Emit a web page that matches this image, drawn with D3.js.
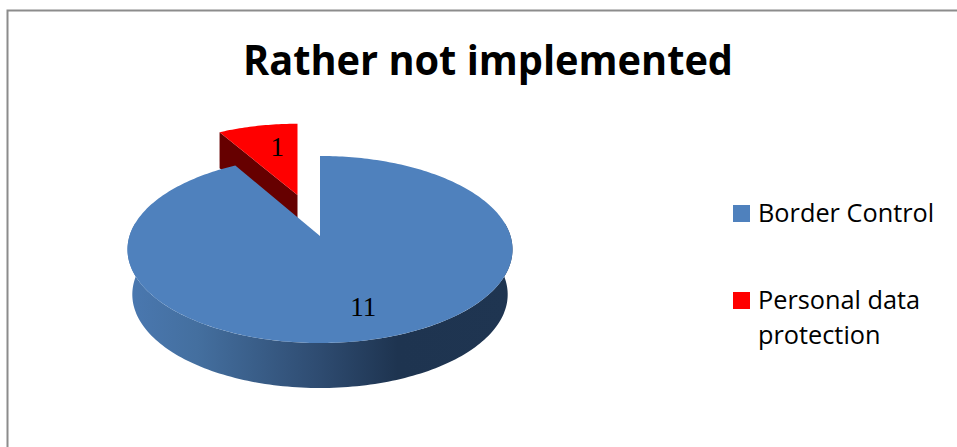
<!DOCTYPE html>
<html><head><meta charset="utf-8">
<script src="https://cdnjs.cloudflare.com/ajax/libs/d3/7.8.5/d3.min.js"></script>
<style>html,body{margin:0;padding:0;background:#fff;overflow:hidden}svg{display:block}</style>
</head><body><div id="chart"></div>
<script>
const titleText = "Rather not implemented";
const categories = ["Border Control", "Personal data protection"];
const values = [11, 1];
const colors = ["#4f81bd", "#ff0000"];
const legendLines = [["Border Control"], ["Personal data", "protection"]];

const W = 957, H = 447;
const svg = d3.select("#chart").append("svg").attr("width", W).attr("height", H);
const defs = svg.append("defs");

// frame
svg.append("path").attr("d", `M7.5,${H}V10.5H${W}`).attr("fill","none").attr("stroke","#8c8c8c").attr("stroke-width",2);

svg.append("text").text(titleText).attr("x",488).attr("y",75)
  .attr("text-anchor","middle").attr("font-family","Open Sans").attr("font-weight",700)
  .attr("font-size",42).attr("fill","#000").attr("textLength",490).attr("lengthAdjust","spacingAndGlyphs");

// perspective disc projection
const cx = 320, cy = 236, kx = 190.5, ky = 91.6, p = 0.144;
const project = (a, r = 1) => {
  const u = r * Math.sin(a), v = -r * Math.cos(a), d = 1 - p * v;
  return [cx + kx * u / d, cy + ky * v / d];
};
const depth = 45, bottomScale = 0.975;
const projectBottom = a => { const q = project(a); return [cx + (q[0]-cx)*bottomScale, q[1] + depth]; };
// explode of the small slice
const ex = 297.5, ey = 195, esx = 0.92, esy = 0.89;
const explode = q => [ex + (q[0]-cx)*esx, ey + (q[1]-cy)*esy];

const pie = d3.pie().sort(null).startAngle(0).endAngle(2*Math.PI);
const arcs = pie(values);
const samples = (a0, a1, n = 120) => d3.range(n + 1).map(i => a0 + (a1 - a0) * i / n);
const line = d3.line();

// small slice
const red = arcs[1];
const redTop = [explode([cx,cy])].concat(samples(red.startAngle, red.endAngle, 30).map(a => explode(project(a))));
const redIn = explode([cx,cy]), redOut = explode(project(red.startAngle));
svg.append("path").attr("d", line([redOut, redIn, [redIn[0], redIn[1]+36], [redOut[0], redOut[1]+36]])+"Z").attr("fill","#660000");
svg.append("path").attr("d", line(redTop)+"Z").attr("fill",colors[1]);

// large slice wall
const grad = defs.append("linearGradient").attr("id","wall").attr("gradientUnits","userSpaceOnUse")
  .attr("x1",128).attr("x2",513).attr("y1",0).attr("y2",0);
[[0,"#4a78b0"],[0.18,"#446f9f"],[0.5,"#2e4b70"],[0.7,"#1e3450"],[1,"#1f3551"]].forEach(s =>
  grad.append("stop").attr("offset",s[0]).attr("stop-color",s[1]));
const blue = arcs[0];
const aR = Math.PI/2 - Math.asin(p), aL = 3*Math.PI/2 + Math.asin(p);
const wallAngles = samples(aR, aL, 160);
svg.append("path").attr("d", line(wallAngles.map(a=>project(a)).concat(wallAngles.slice().reverse().map(projectBottom)))+"Z")
  .attr("fill","url(#wall)");
// large slice top
svg.append("path").attr("d", line([[cx,cy]].concat(samples(blue.startAngle, blue.endAngle, 300).map(a=>project(a))))+"Z")
  .attr("fill",colors[0]);

// data labels
const mid = d => (d.startAngle + d.endAngle)/2;
const bq = project(mid(blue), 0.75);
const rq = explode(project(mid(red), 0.55));
[[bq, values[0], 6],[[rq[0]+1, rq[1]-7], values[1], 8]].forEach(([q,v,dy]) =>
  svg.append("text").text(v).attr("x",q[0]+2).attr("y",q[1]+dy)
    .attr("text-anchor","middle").attr("font-family","Liberation Serif").attr("font-size",27).attr("fill","#000"));

// legend
const legY = [205, 292];
categories.forEach((c,i) => {
  svg.append("rect").attr("x",733).attr("y",legY[i]).attr("width",17).attr("height",17).attr("fill",colors[i]);
  legendLines[i].forEach((t,j) => svg.append("text").text(t).attr("x",758).attr("y",legY[i]+17+j*35)
    .attr("font-family","Open Sans").attr("font-size",25.3).attr("fill","#000"));
});
</script></body></html>
